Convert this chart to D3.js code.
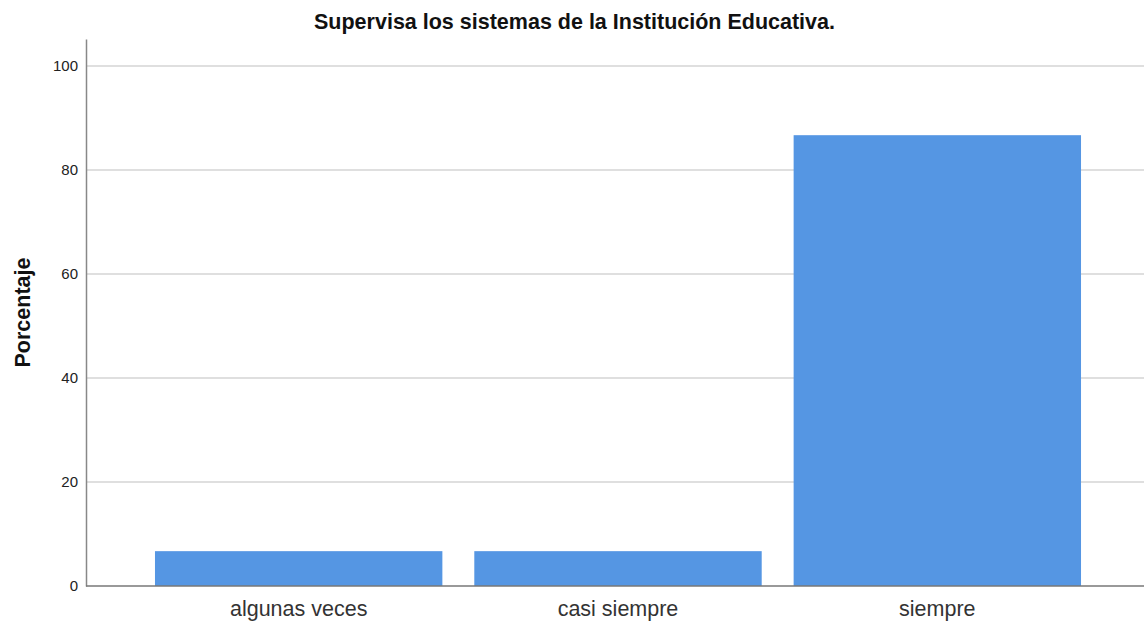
<!DOCTYPE html>
<html><head><meta charset="utf-8">
<script src="https://cdn.jsdelivr.net/npm/d3@7"></script>
<style>body{margin:0;background:#fff}svg{display:block}</style>
</head><body>
<script>
const categories = ["algunas veces", "casi siempre", "siempre"];
const values = [6.7, 6.7, 86.7];
const yTicks = [0, 20, 40, 60, 80, 100];
const title = "Supervisa los sistemas de la Institución Educativa.";
const yLabel = "Porcentaje";

const W = 1144, H = 622;
const svg = d3.select("body").append("svg").attr("width", W).attr("height", H);
const font = "'Liberation Sans', Arial, sans-serif";

const y = d3.scaleLinear().domain([0, 105.2]).range([586, 39]);
const x = d3.scaleBand().domain(categories).range([86, 1150]).paddingInner(0.1).paddingOuter(0.216);

// gridlines
svg.append("g").selectAll("line").data(yTicks.filter(d => d > 0)).join("line")
  .attr("x1", 86).attr("x2", W).attr("y1", d => y(d)).attr("y2", d => y(d))
  .attr("stroke", "#d4d4d4").attr("stroke-width", 1.6);

// bars
svg.append("g").selectAll("rect").data(values).join("rect")
  .attr("x", (d, i) => x(categories[i])).attr("width", x.bandwidth())
  .attr("y", d => y(d)).attr("height", d => y(0) - y(d))
  .attr("fill", "#5596e3");

// y axis
const ya = d3.axisLeft(y).tickValues(yTicks).tickSize(0).tickPadding(8);
const gy = svg.append("g").attr("transform", "translate(86,0)").call(ya);
gy.select(".domain").attr("stroke", "#888").attr("stroke-width", 1.5);
gy.selectAll("text").attr("font-family", font).attr("font-size", 15).attr("fill", "#222");

// baseline
svg.append("line").attr("x1", 86).attr("x2", W).attr("y1", y(0)).attr("y2", y(0))
  .attr("stroke", "#777").attr("stroke-width", 1.5);

// x axis labels
const xa = d3.axisBottom(x).tickSize(0).tickPadding(15);
const gx = svg.append("g").attr("transform", `translate(0,${y(0)})`).call(xa);
gx.select(".domain").remove();
gx.selectAll("text").attr("font-family", font).attr("font-size", 21.5).attr("fill", "#333");

// title
svg.append("text").attr("x", 574.5).attr("y", 29).attr("text-anchor", "middle")
  .attr("font-family", font).attr("font-size", 21.5).attr("font-weight", "bold").attr("fill", "#111").text(title);

// y label
svg.append("text").attr("transform", `translate(30,312.5) rotate(-90)`).attr("text-anchor", "middle")
  .attr("font-family", font).attr("font-size", 21.5).attr("font-weight", "bold").attr("fill", "#111").text(yLabel);
</script>
</body></html>
